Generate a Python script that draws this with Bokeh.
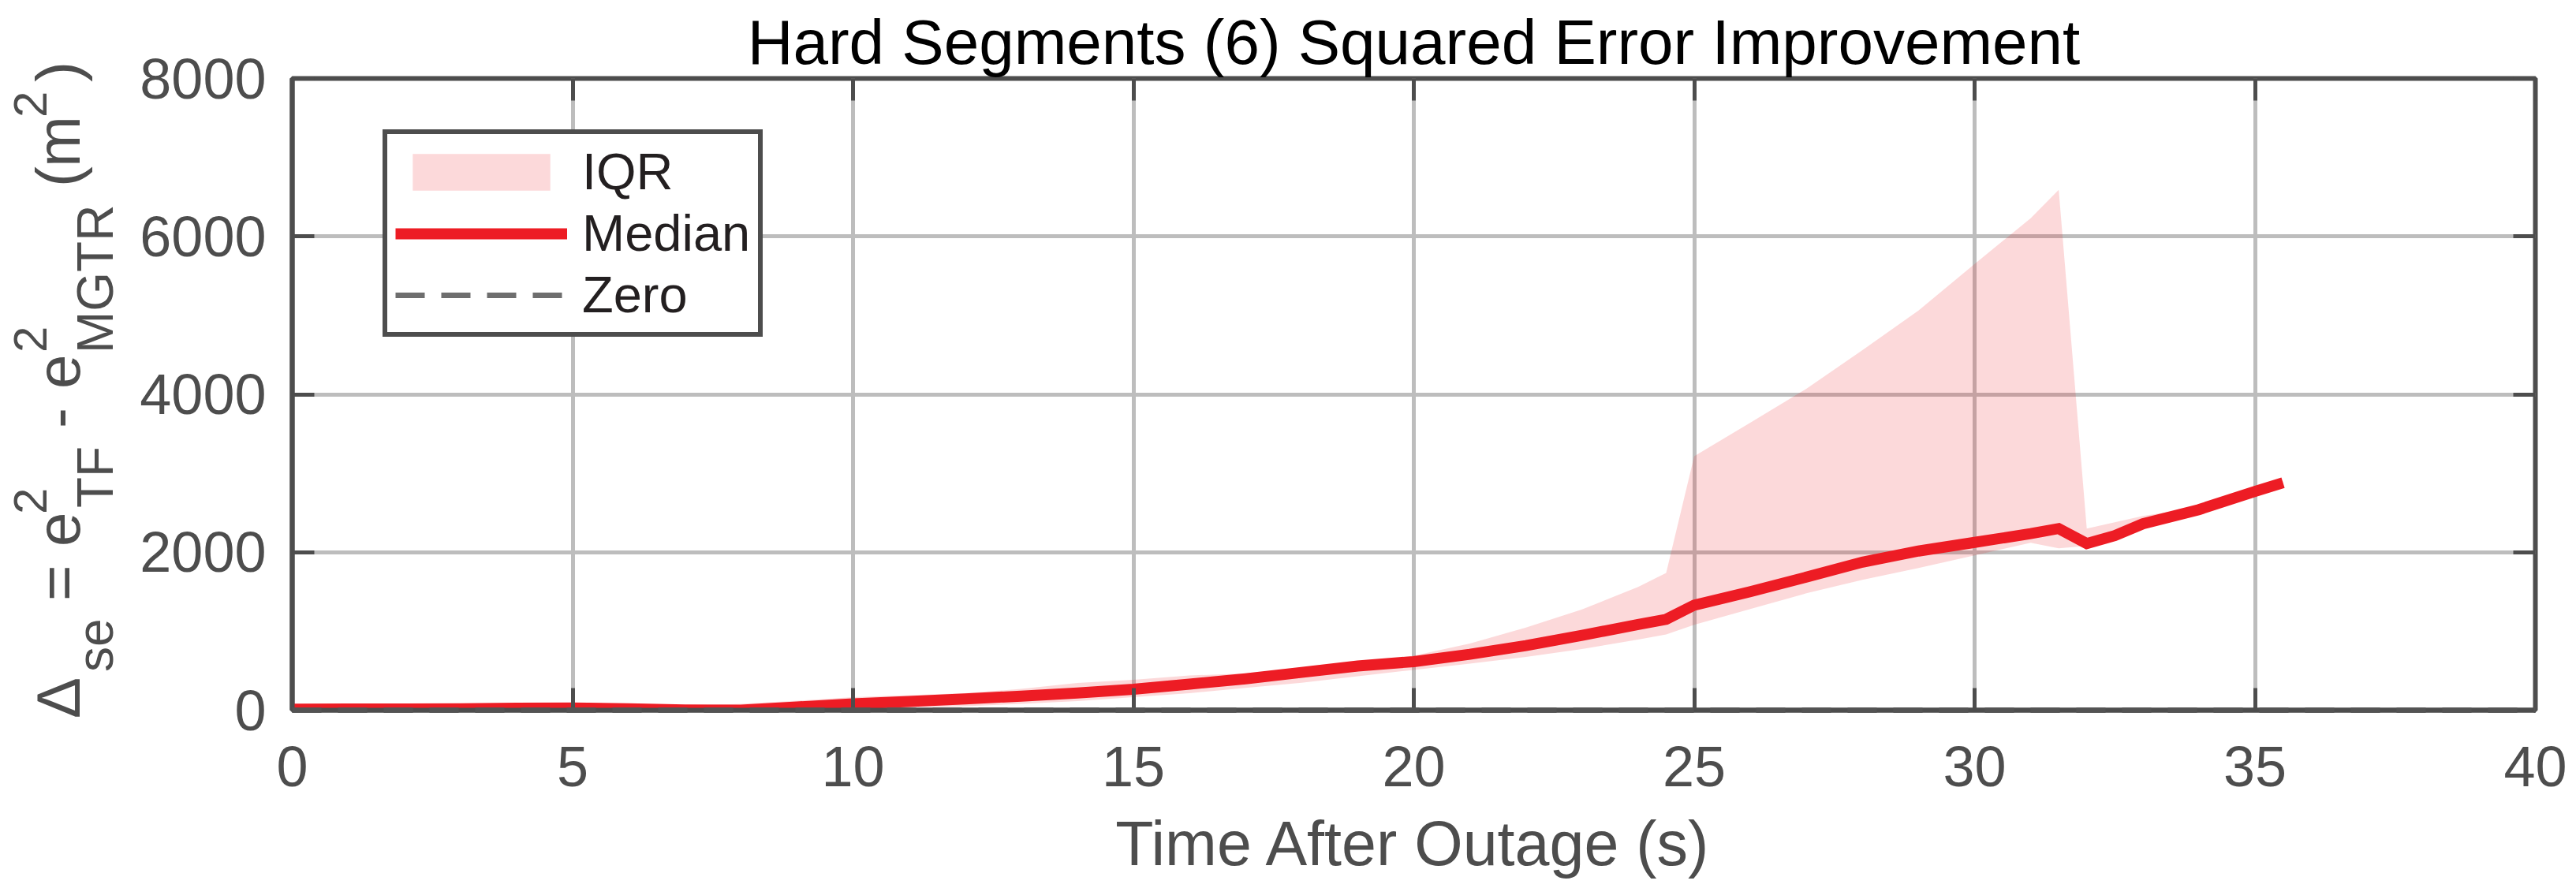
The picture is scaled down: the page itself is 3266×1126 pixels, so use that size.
from bokeh.embed import file_html
from bokeh.layouts import row
from bokeh.models import Div, FixedTicker, Legend, LegendItem, LinearAxis, Range1d
from bokeh.plotting import figure
from bokeh.resources import INLINE

# values
time_s = [0, 1, 2, 3, 4, 5, 6, 7, 8, 9, 10, 11, 12, 13, 14, 15, 16, 17, 18, 19,
          20, 21, 22, 23, 24, 24.5, 25, 26, 27, 28, 29, 30, 31, 31.5, 32, 32.5,
          33, 34, 35, 35.5]
median = [12, 14, 16, 18, 24, 28, 18, 2, 0, 40, 80, 110, 142, 178, 218, 265,
          330, 397, 478, 560, 615, 708, 818, 948, 1085, 1150, 1330, 1500, 1685,
          1875, 2015, 2125, 2235, 2300, 2110, 2210, 2360, 2540, 2770, 2880]
iqr_high = [20, 22, 25, 28, 35, 40, 40, 55, 80, 120, 165, 190, 215, 270, 345,
            385, 440, 465, 500, 595, 690, 845, 1045, 1275, 1560, 1737, 3216,
            3640, 4070, 4560, 5060, 5650, 6230, 6590, 2300, 2380, 2460, 2570,
            2800, 2900]
iqr_low = [5, 6, 6, 8, 10, 12, 5, -5, -8, 5, 20, 35, 50, 80, 116, 165, 215,
           281, 347, 430, 510, 590, 675, 775, 893, 958, 1080, 1280, 1480, 1650,
           1800, 1960, 2120, 2050, 2080, 2170, 2320, 2510, 2740, 2850]
zero_x = [0, 40]
zero_y = [0, 0]

x_ticks = [0, 5, 10, 15, 20, 25, 30, 35, 40]
y_ticks = [0, 2000, 4000, 6000, 8000]

title_text = "Hard Segments (6) Squared Error Improvement"
x_label = "Time After Outage (s)"
# y label "Δse = e²TF - e²MGTR (m²)" as runs of normal / sub / superscript text
ylab_runs = ["\u0394", "se", "=", "e", "2", "TF", "-", "e", "2", "MGTR",
             "(", "m", "2", ")"]
ylab_kind = ["n", "b", "n", "n", "p", "b", "n", "n", "p", "b",
             "n", "n", "p", "n"]
# where each run starts, measured upward along the rotated label (px from top)
ylab_start = [911, 852, 762, 693, 652, 644, 543, 493, 447, 448,
              237, 212, 149, 104]

FONT = "Liberation Sans"
AXIS_GRAY = "#4d4d4d"
RED = "#ed1c24"

W, H = 3266, 1126
LEFT_W = 160

# rotated y label, placed run by run
run_style = {"n": (78, 101), "b": (64, 143), "p": (60, 60)}  # font px, baseline x
spans = []
for txt, kind, y0 in zip(ylab_runs, ylab_kind, ylab_start):
    size, base_x = run_style[kind]
    left = base_x - 0.8465 * size
    spans.append(
        f'<span style="position:absolute;left:{left:.1f}px;top:{y0}px;'
        f'transform:rotate(-90deg);transform-origin:0 0;white-space:nowrap;'
        f"font-family:'{FONT}';font-size:{size}px;line-height:1;"
        f'color:{AXIS_GRAY}">{txt}</span>')
side = Div(text=f'<div style="position:relative;width:{LEFT_W}px;height:{H}px">'
                + "".join(spans) + "</div>",
           width=LEFT_W, height=H, margin=(0, 0, 0, 0))

p = figure(width=W - LEFT_W, height=H, output_backend="svg",
           toolbar_location=None, x_range=Range1d(0, 40),
           y_range=Range1d(0, 8000), min_border_left=370 - LEFT_W,
           min_border_right=52, min_border_top=99, min_border_bottom=226)
p.background_fill_color = "white"
p.border_fill_color = "white"
p.outline_line_color = AXIS_GRAY
p.outline_line_width = 6

p.title.text = title_text
p.title.align = "center"
p.title.text_font = FONT
p.title.text_font_size = "80px"
p.title.text_font_style = "normal"
p.title.text_color = "black"
p.title.standoff = 4

# grid
p.xgrid.ticker = FixedTicker(ticks=x_ticks)
p.ygrid.ticker = FixedTicker(ticks=y_ticks)
for g in (p.xgrid, p.ygrid):
    g.grid_line_color = "#bdbdbd"
    g.grid_line_width = 5

# axes
p.xaxis.ticker = FixedTicker(ticks=x_ticks)
p.yaxis.ticker = FixedTicker(ticks=y_ticks)
for ax in (p.xaxis, p.yaxis):
    ax.axis_line_color = AXIS_GRAY
    ax.axis_line_width = 6
    ax.major_tick_in = 28
    ax.major_tick_out = 0
    ax.major_tick_line_color = AXIS_GRAY
    ax.major_tick_line_width = 5
    ax.minor_tick_line_color = None
    ax.major_label_text_font = FONT
    ax.major_label_text_font_size = "72px"
    ax.major_label_text_color = AXIS_GRAY
p.xaxis.major_label_standoff = 46
p.yaxis.major_label_standoff = 33
p.xaxis.axis_label = x_label
p.xaxis.axis_label_text_font = FONT
p.xaxis.axis_label_text_font_size = "79px"
p.xaxis.axis_label_text_font_style = "normal"
p.xaxis.axis_label_text_color = AXIS_GRAY
p.xaxis.axis_label_standoff = 25

# ticks on the top and right side of the box
top = LinearAxis(ticker=FixedTicker(ticks=x_ticks))
right = LinearAxis(ticker=FixedTicker(ticks=y_ticks))
for ax in (top, right):
    ax.axis_line_color = None
    ax.major_tick_in = 28
    ax.major_tick_out = 0
    ax.major_tick_line_color = AXIS_GRAY
    ax.major_tick_line_width = 5
    ax.minor_tick_line_color = None
    ax.major_label_text_color = None
    ax.major_label_text_font_size = "0px"
    ax.major_label_standoff = 0
p.add_layout(top, "above")
p.add_layout(right, "right")

# data
band = p.varea(x=time_s, y1=iqr_low, y2=iqr_high, fill_color=RED, fill_alpha=0.17)
med = p.line(x=time_s, y=median, line_color=RED, line_width=14, line_join="miter")
zero = p.line(x=zero_x, y=zero_y, line_color="#555555", line_alpha=0.85,
              line_width=7, line_dash="37 21", level="overlay")

legend = Legend(items=[LegendItem(label="IQR", renderers=[band]),
                       LegendItem(label="Median", renderers=[med]),
                       LegendItem(label="Zero", renderers=[zero])],
                location=(115, 473), margin=0, padding=10, spacing=3,
                glyph_width=218, glyph_height=58, label_height=58,
                label_standoff=19, label_text_font=FONT,
                label_text_font_size="65px", label_text_color="#231f20",
                border_line_color=AXIS_GRAY, border_line_width=6,
                border_line_alpha=1.0,
                background_fill_color="white", background_fill_alpha=1.0)
p.add_layout(legend)

layout = row(side, p, spacing=0)
open("out.html", "w").write(file_html(layout, INLINE))
